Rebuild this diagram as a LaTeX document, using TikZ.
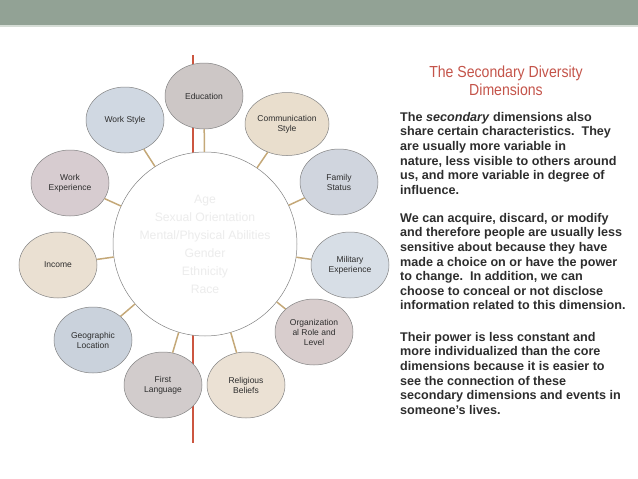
\documentclass[tikz,border=0pt]{standalone}
\usepackage{fontspec}
\setmainfont{Liberation Sans}
\newfontfamily\titlefont[FakeStretch=0.88]{Liberation Sans}
\usetikzlibrary{shapes.geometric}
\definecolor{bandgreen}{RGB}{146,162,149}
\definecolor{bandlight}{RGB}{214,221,214}
\definecolor{ringgray}{RGB}{130,130,130}
\definecolor{darktext}{RGB}{45,45,45}
\definecolor{coretext}{RGB}{236,236,236}
\definecolor{linktan}{RGB}{196,168,120}
\definecolor{spinered}{RGB}{204,86,64}
\definecolor{titlered}{RGB}{196,84,74}
\definecolor{eduFill}{RGB}{205,199,198}
\definecolor{styleFill}{RGB}{208,216,226}
\definecolor{commFill}{RGB}{233,222,205}
\definecolor{familyFill}{RGB}{208,213,222}
\definecolor{militaryFill}{RGB}{215,222,230}
\definecolor{orgFill}{RGB}{216,205,205}
\definecolor{religionFill}{RGB}{235,225,212}
\definecolor{languageFill}{RGB}{210,204,204}
\definecolor{geoFill}{RGB}{202,210,220}
\definecolor{incomeFill}{RGB}{234,224,210}
\definecolor{workexpFill}{RGB}{215,204,208}

\begin{document}
\begin{tikzpicture}[x=1pt,y=-1pt,
  dim/.style={ellipse,draw=ringgray,line width=0.5pt,minimum width=78pt,
    minimum height=66pt,inner sep=0pt,align=center,text=darktext,
    font=\fontsize{8.5}{10}\selectfont},
  core/.style={circle,draw=ringgray,line width=0.5pt,fill=white,minimum size=184pt,
    inner sep=0pt,align=center,text=coretext,font=\fontsize{12.2}{18}\selectfont},
  link/.style={draw=linktan,line width=1.5pt},
  spine/.style={color=spinered,line width=1.2pt},
  para/.style={anchor=north west,inner sep=0pt,align=left,text=darktext,
    font=\fontsize{12.6}{14.6}\selectfont\bfseries}
]
\useasboundingbox (0,0) rectangle (638,479);
\fill[bandgreen] (0,0) rectangle (638,25);
\fill[bandlight] (0,25) rectangle (638,27);

\coordinate (spinetop) at (193,55);
\coordinate (spinebot) at (193,443);
\draw[spine] (spinetop) -- (spinebot);

\node[core] (core) at (205,244) {Age\\Sexual Orientation\\Mental/Physical Abilities\\Gender\\Ethnicity\\Race};

\node[dim,fill=eduFill] (edu) at (204,96) {Education};
\node[dim,fill=styleFill] (style) at (125,120) {Work Style};
\node[dim,fill=commFill,minimum width=84pt,minimum height=63pt] (comm) at (287,124) {Communication\\Style};
\node[dim,fill=familyFill] (family) at (339,182) {Family\\Status};
\node[dim,fill=militaryFill] (military) at (350,265) {Military\\Experience};
\node[dim,fill=orgFill] (org) at (314,332) {Organization\\al Role and\\Level};
\node[dim,fill=religionFill] (religion) at (246,385) {Religious\\Beliefs};
\node[dim,fill=languageFill] (language) at (163,385) {First\\Language};
\node[dim,fill=geoFill] (geo) at (93,340) {Geographic\\Location};
\node[dim,fill=incomeFill] (income) at (58,265) {Income};
\node[dim,fill=workexpFill] (workexp) at (70,183) {Work\\Experience};

\draw[link] (core) -- (edu);
\draw[link] (core) -- (style);
\draw[link] (core) -- (comm);
\draw[link] (core) -- (family);
\draw[link] (core) -- (military);
\draw[link] (core) -- (org);
\draw[link] (core) -- (religion);
\draw[link] (core) -- (language);
\draw[link] (core) -- (geo);
\draw[link] (core) -- (income);
\draw[link] (core) -- (workexp);

\node[align=center,text=titlered,inner sep=0pt,font=\titlefont\fontsize{16}{18}\selectfont] (title) at (506,81) {The Secondary Diversity\\Dimensions};

\node[para] (first) at (400,112) {The \textit{secondary} dimensions also\\share certain characteristics.\ \ They\\are usually more variable in\\nature, less visible to others around\\us, and more variable in degree of\\influence.};
\node[para] (second) at (400,213) {We can acquire, discard, or modify\\and therefore people are usually less\\sensitive about because they have\\made a choice on or have the power\\to change.\ \ In addition, we can\\choose to conceal or not disclose\\information related to this dimension.};
\node[para] (third) at (400,332) {Their power is less constant and\\more individualized than the core\\dimensions because it is easier to\\see the connection of these\\secondary dimensions and events in\\someone’s lives.};
\end{tikzpicture}
\end{document}
